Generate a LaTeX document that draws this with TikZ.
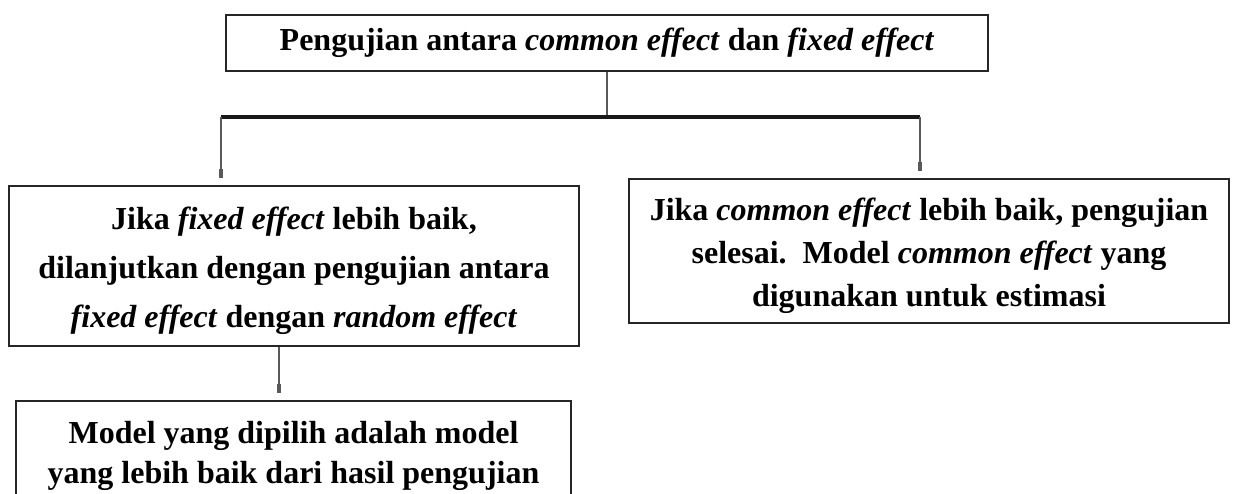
\documentclass[tikz,border=0pt]{standalone}
\usepackage{fontspec}
\usepackage{graphicx}
\setmainfont{Liberation Serif}
\usetikzlibrary{arrows.meta}
\newcommand\shiftdown[2]{\raisebox{-#1}[\height][\depth]{\begin{tabular}{@{}c@{}}#2\end{tabular}}}
\begin{document}
\begin{tikzpicture}[x=1pt,y=-1pt,
  box/.style={draw=black!85,line width=2pt,inner sep=0pt,align=center,anchor=north west},
  conn/.style={draw=black!65,line width=2pt},
  bar/.style={draw=black!90,line width=4pt},
  tip/.style={-{Rectangle[length=9pt,width=4pt]},shorten >=7pt}]
\useasboundingbox (0,0) rectangle (1236,494);
\node[box,minimum width=762pt,minimum height=56pt,font=\fontsize{32}{36}\selectfont\bfseries] (top) at (225,14)
  {Pengujian antara \textit{common effect} dan \textit{fixed effect}};
\node[box,minimum width=570pt,minimum height=160pt,font=\fontsize{32}{49}\selectfont\bfseries] (left) at (8,185)
  {\shiftdown{3pt}{Jika \textit{fixed effect} lebih baik,\\dilanjutkan dengan pengujian antara\\\textit{fixed effect} dengan \textit{random effect}}};
\node[box,minimum width=600pt,minimum height=144pt,font=\fontsize{32}{43}\selectfont\bfseries] (right) at (628,178)
  {\shiftdown{4pt}{Jika \textit{common effect} lebih baik, pengujian\\selesai.\ \ Model \textit{common effect} yang\\digunakan untuk estimasi}};
\node[box,minimum width=555pt,minimum height=110pt,font=\fontsize{32}{40}\selectfont\bfseries] (bottom) at (15,400)
  {Model yang dipilih adalah model\\yang lebih baik dari hasil pengujian};
\coordinate (jn) at (607,117);
\coordinate (jl) at (221,117);
\coordinate (jr) at (920,117);
\draw[conn] (top.south -| jn) -- (jn);
\draw[bar] (jl) -- (jr);
\draw[conn,tip] (jl) -- (left.north -| jl);
\draw[conn,tip] (jr) -- (right.north -| jr);
\draw[conn,tip] (left.south -| 279,0) -- (bottom.north -| 279,0);
\end{tikzpicture}
\end{document}
